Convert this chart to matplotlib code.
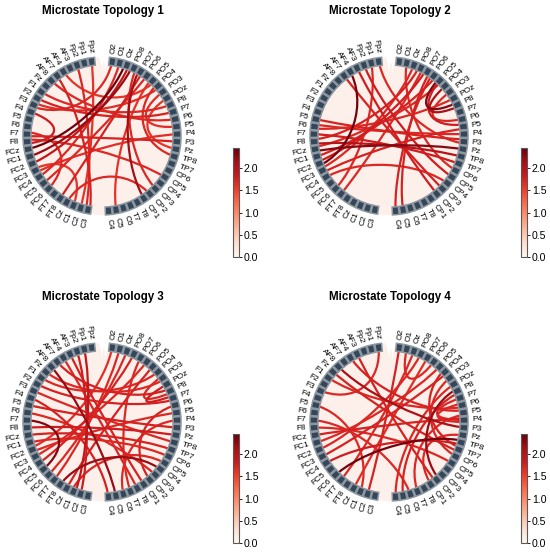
import numpy as np
import matplotlib
matplotlib.use("Agg")
from matplotlib import pyplot as plt
from matplotlib.path import Path
from matplotlib.patches import PathPatch, Wedge, Circle, Polygon
from matplotlib.colors import Normalize

plt.rcParams['font.family'] = ['Liberation Sans', 'DejaVu Sans']

# channels, left half from top to bottom, right half from bottom to top
LEFT = ["Fpz", "Fp1", "Fp2", "AF3", "AF4", "AF7", "AF8", "Fz", "F1", "F2",
        "F3", "F4", "F5", "F6", "F7", "F8", "FCz", "FC1", "FC2", "FC3",
        "FC4", "FC5", "FC6", "FT7", "FT8", "Cz", "C1", "C2", "C3"]
RIGHT = ["C4", "C5", "C6", "T7", "T8", "CP1", "CP2", "CP3", "CP4", "CP5",
         "CP6", "TP7", "TP8", "Pz", "P3", "P4", "P5", "P6", "P7", "P8",
         "POz", "PO3", "PO4", "PO5", "PO6", "PO7", "PO8", "Oz", "O1", "O2"]

TITLES = ["Microstate Topology 1", "Microstate Topology 2",
          "Microstate Topology 3", "Microstate Topology 4"]
VMIN, VMAX = 0.0, 2.45
CBAR_TICKS = [0.0, 0.5, 1.0, 1.5, 2.0]

EDGES_1 = [("FCz", "Oz", 2.42), ("FC1", "PO8", 2.2), ("FC2", "Oz", 1.9),
           ("PO7", "CP1", 2.15), ("Fp2", "C3", 1.7), ("AF7", "C3", 1.75),
           ("Fpz", "C2", 1.6), ("F7", "P3", 1.75), ("F7", "FC6", 1.7),
           ("F4", "F8", 1.8), ("F2", "P7", 1.75), ("F1", "P8", 1.7),
           ("F3", "PO4", 1.65), ("AF4", "PO5", 1.6), ("AF8", "P6", 1.7),
           ("O2", "F3", 1.7), ("O1", "FC4", 1.7), ("PO7", "FT8", 1.75),
           ("PO6", "FC5", 1.7), ("PO3", "P5", 1.65), ("PO4", "TP8", 1.7),
           ("POz", "Pz", 1.6), ("PO8", "CP3", 1.7), ("Cz", "CP2", 1.7),
           ("C1", "FC3", 1.6), ("F8", "CP5", 1.7), ("FC3", "P4", 1.65),
           ("PO5", "C5", 1.6)]

EDGES_2 = [("AF4", "FC2", 2.4), ("FCz", "Pz", 2.3), ("F8", "TP8", 2.0),
           ("PO5", "P8", 2.3), ("PO4", "P8", 2.1), ("Fpz", "P3", 1.7),
           ("Fp2", "CP5", 1.8), ("AF7", "CP3", 1.75), ("AF3", "CP2", 1.8),
           ("F5", "P3", 1.75), ("F6", "P4", 1.7), ("F7", "TP7", 1.8),
           ("FC1", "PO6", 1.75), ("FC2", "PO7", 1.8), ("FCz", "PO5", 1.7),
           ("F8", "PO8", 1.75), ("FT7", "PO8", 1.7), ("FC6", "Fp1", 1.7),
           ("C4", "PO6", 1.75), ("P5", "PO5", 1.8), ("P6", "PO3", 1.7),
           ("Oz", "FC3", 1.7), ("O1", "CP6", 1.7), ("PO7", "C5", 1.75),
           ("FC3", "P5", 1.75), ("F6", "POz", 1.7), ("FC4", "CP4", 1.7)]

EDGES_3 = [("F7", "FC5", 2.3), ("AF8", "C5", 2.2), ("FT8", "CP4", 2.2),
           ("Fp1", "C1", 1.9), ("Fp2", "C2", 1.8), ("AF3", "CP1", 1.75),
           ("AF7", "P8", 1.75), ("F1", "PO4", 1.7), ("F2", "P7", 1.75),
           ("Fz", "PO3", 1.7), ("F3", "TP8", 1.7), ("F5", "P3", 1.75),
           ("F8", "Pz", 1.8), ("FCz", "TP7", 1.75), ("FC1", "CP6", 1.7),
           ("FC2", "P5", 1.7), ("FC3", "PO6", 1.7), ("FC4", "PO8", 1.75),
           ("FC6", "Oz", 1.7), ("FT7", "O1", 1.7), ("Cz", "PO5", 1.75),
           ("C1", "CP5", 1.7), ("O2", "FC2", 1.65), ("PO7", "T7", 1.7),
           ("POz", "P7", 1.8), ("PO3", "P8", 1.7), ("P6", "CP2", 1.75),
           ("P4", "C6", 1.7), ("F6", "CP3", 1.7), ("AF4", "T8", 1.7),
           ("F4", "C4", 1.75)]

EDGES_4 = [("FC6", "TP8", 2.4), ("P8", "CP2", 2.2), ("AF8", "P3", 2.1),
           ("Fpz", "F3", 1.7), ("O2", "C2", 1.75), ("O1", "PO6", 1.7),
           ("AF4", "P5", 1.75), ("AF3", "CP2", 1.75), ("Fz", "TP7", 1.75),
           ("F1", "P6", 1.7), ("F5", "C1", 1.7), ("F8", "CP5", 1.7),
           ("FCz", "P4", 1.75), ("FC1", "PO5", 1.7), ("FC2", "PO8", 1.7),
           ("FC3", "PO4", 1.75), ("FC4", "TP8", 1.8), ("FT7", "Oz", 1.7),
           ("Cz", "PO7", 1.65), ("C4", "POz", 1.7), ("C5", "P8", 1.75),
           ("T7", "P5", 1.7), ("P4", "P6", 1.7), ("P4", "P7", 1.7),
           ("PO3", "CP6", 1.7), ("PO4", "TP7", 1.75), ("CP1", "Pz", 1.7),
           ("C6", "F7", 1.7)]

ALL_EDGES = [EDGES_1, EDGES_2, EDGES_3, EDGES_4]

# panel geometry in pixels (figure is 550 x 552)
W, H = 550.0, 552.0
PX_PER_UNIT = 7.9
CENTERS = [(102, 136), (389, 136), (102, 422), (389, 422)]
CBARS = [(233, 148, 6, 109), (521, 148, 6, 109),
         (233, 434, 6, 109), (521, 434, 6, 109)]
TITLE_POS = [(103, 11), (390, 11), (103, 297), (390, 297)]

NODE_FACE = "#34475a"
NODE_EDGE = "#8d969e"
DISK = "#fdf0eb"
cmap = plt.get_cmap("Reds")
norm = Normalize(VMIN, VMAX)


def node_angles():
    n = len(LEFT) + len(RIGHT)
    group_sep = 10.0
    sep = (360.0 - 2 * group_sep) / n
    start = 90.0 + (sep + group_sep) / 2
    ang = {}
    a = start
    for name in LEFT:
        ang[name] = a
        a += sep
    a += group_sep
    for name in RIGHT:
        ang[name] = a % 360
        a += sep
    return ang, sep


def draw_circle(ax, edges, ang, sep):
    ax.set_xlim(-13, 13)
    ax.set_ylim(-13, 13)
    ax.set_aspect("equal")
    ax.axis("off")

    ax.add_patch(Circle((0, 0), 10, facecolor=DISK, edgecolor="none", zorder=0))

    # white notches in the two gaps
    for gap_c in [90.0, ang["C3"] + (ang["C4"] + 360 - ang["C3"]) / 2]:
        half = (sep + 10.0) / 2 - 0.4 * sep
        pts = []
        for t in np.linspace(-1, 1, 21):
            depth = 10.6 - 2.6 * (1 - abs(t)) ** 2
            r = 10.6 if abs(t) == 1 else min(10.6, depth)
            th = np.deg2rad(gap_c + t * half * (0.6 + 0.4 * abs(t)))
            pts.append((r * np.cos(th), r * np.sin(th)))
        ax.add_patch(Polygon(pts, closed=True, facecolor="white",
                             edgecolor="none", zorder=1))

    # spread several edge ends on the same node
    count = {}
    for a, b, v in edges:
        count[a] = count.get(a, 0) + 1
        count[b] = count.get(b, 0) + 1
    used = {}

    def end_angle(name):
        k = used.get(name, 0)
        used[name] = k + 1
        n = count[name]
        off = 0.0 if n == 1 else (k / (n - 1) - 0.5) * 0.55 * sep
        return np.deg2rad(ang[name] + off)

    for a, b, v in sorted(edges, key=lambda e: e[2]):
        t0 = end_angle(a)
        t1 = end_angle(b)
        verts = [(10 * np.cos(t0), 10 * np.sin(t0)),
                 (5 * np.cos(t0), 5 * np.sin(t0)),
                 (5 * np.cos(t1), 5 * np.sin(t1)),
                 (10 * np.cos(t1), 10 * np.sin(t1))]
        codes = [Path.MOVETO, Path.CURVE4, Path.CURVE4, Path.CURVE4]
        ax.add_patch(PathPatch(Path(verts, codes), fill=False,
                               edgecolor=cmap(norm(v)), linewidth=1.6,
                               zorder=2))

    width = 0.86 * sep
    for name, a in ang.items():
        ax.add_patch(Wedge((0, 0), 10.0, a - width / 2, a + width / 2,
                           width=1.0, facecolor=NODE_FACE,
                           edgecolor=NODE_EDGE, linewidth=1.1, zorder=3))
        th = np.deg2rad(a)
        x, y = 10.5 * np.cos(th), 10.5 * np.sin(th)
        if a >= 270 or a < 90:
            rot, ha = a if a < 90 else a - 360, "left"
        else:
            rot, ha = a - 180, "right"
        ax.text(x, y, name, fontsize=6, rotation=rot, rotation_mode="anchor",
                ha=ha, va="center", color="black", clip_on=False)


def main():
    fig = plt.figure(figsize=(W / 100, H / 100), dpi=100)
    ang, sep = node_angles()
    half = 13 * PX_PER_UNIT
    for k in range(4):
        cx, cy = CENTERS[k]
        ax = fig.add_axes([(cx - half) / W, 1 - (cy + half) / H,
                           2 * half / W, 2 * half / H])
        draw_circle(ax, ALL_EDGES[k], ang, sep)

        tx, ty = TITLE_POS[k]
        fig.text(tx / W, 1 - ty / H, TITLES[k], fontsize=8.3,
                 fontweight="bold", ha="center", va="center")

        x0, y0, w, h = CBARS[k]
        cax = fig.add_axes([x0 / W, 1 - (y0 + h) / H, w / W, h / H])
        sm = plt.cm.ScalarMappable(norm=norm, cmap=cmap)
        cb = fig.colorbar(sm, cax=cax, ticks=CBAR_TICKS)
        cb.ax.set_yticklabels(["{:.1f}".format(t) for t in CBAR_TICKS])
        cb.ax.tick_params(labelsize=7.6, length=2, width=0.6, pad=1.5)
        cb.outline.set_edgecolor("0.35")
        cb.outline.set_linewidth(0.8)

    fig.savefig("out.png", dpi=100)


if __name__ == "__main__":
    main()
